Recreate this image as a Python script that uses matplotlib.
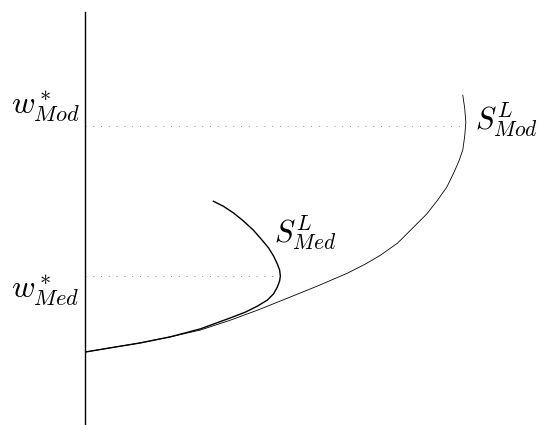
import matplotlib
matplotlib.use("Agg")
import matplotlib.pyplot as plt

plt.rcParams["mathtext.fontset"] = "cm"

# labour supply curves: hours (x) against wage (w)
mod_x = [0.0, 0.66, 1.45, 2.24, 3.03, 3.82, 4.55, 5.32, 6.11, 6.90, 7.37,
         7.76, 8.21, 8.63, 8.97, 9.26, 9.50, 9.68, 9.82, 9.92, 9.97, 10.0,
         9.97, 9.92]
mod_w = [0.0, 0.11, 0.24, 0.40, 0.58, 0.84, 1.11, 1.42, 1.74, 2.08, 2.32,
         2.55, 2.87, 3.29, 3.63, 4.00, 4.34, 4.71, 5.03, 5.32, 5.68, 6.05,
         6.42, 6.76]

med_x = [0.0, 0.66, 1.45, 2.24, 3.03, 3.82, 4.21, 4.53, 4.79, 4.95, 5.05,
         5.11, 5.13, 5.11, 5.05, 4.95, 4.82, 4.63, 4.42, 4.16, 3.90, 3.63,
         3.37]
med_w = [0.0, 0.11, 0.24, 0.40, 0.61, 0.90, 1.05, 1.21, 1.37, 1.53, 1.71,
         1.87, 2.00, 2.16, 2.32, 2.53, 2.74, 2.97, 3.21, 3.45, 3.66, 3.84,
         3.97]

w_star_mod = 5.95
w_star_med = 2.0
x_turn_mod = 10.0
x_turn_med = 5.13

fig = plt.figure(figsize=(5.42, 4.25), dpi=100)
ax = fig.add_axes([85 / 542, 0, 1 - 85 / 542, 413 / 425])
ax.set_xlim(0, 12)
ax.set_ylim(-1.92, 8.95)

for side in ["top", "right", "bottom"]:
    ax.spines[side].set_visible(False)
ax.spines["left"].set_linewidth(1.0)
ax.set_xticks([])
ax.set_yticks([])

ax.plot(mod_x, mod_w, color="black", lw=0.6, solid_joinstyle="round")
ax.plot(med_x, med_w, color="black", lw=1.0, solid_joinstyle="round")

ax.hlines([w_star_mod, w_star_med], 0, [x_turn_mod - 0.15, x_turn_med - 0.1],
          colors="0.55", lw=0.7, linestyles=[(0, (1, 7))])

ax.text(-0.13, 6.47, r"$w^*_{Mod}$", fontsize=23, ha="right", va="center",
        clip_on=False)
ax.text(-0.13, 1.63, r"$w^*_{Med}$", fontsize=23, ha="right", va="center",
        clip_on=False)
ax.text(10.25, 6.13, r"$S^L_{Mod}$", fontsize=22, ha="left", va="center")
ax.text(4.95, 3.15, r"$S^L_{Med}$", fontsize=22, ha="left", va="center")

fig.savefig("out.png", dpi=100)
